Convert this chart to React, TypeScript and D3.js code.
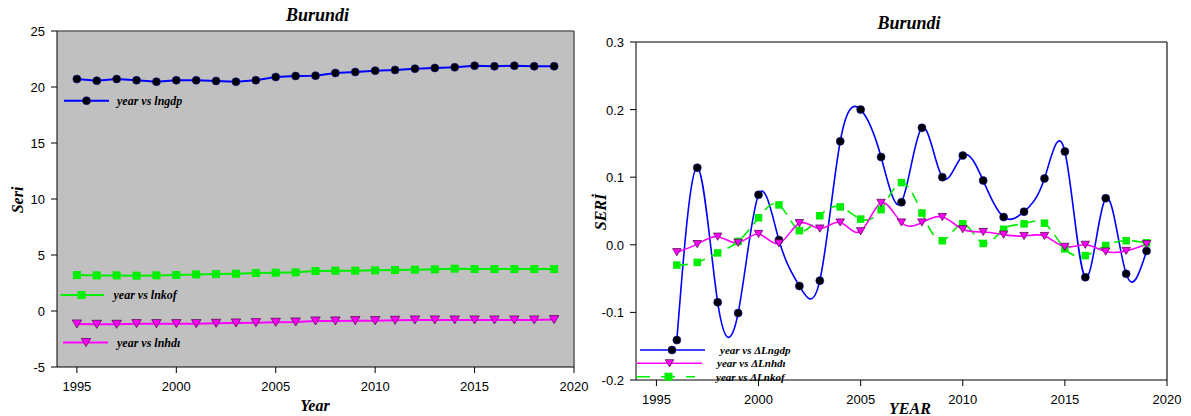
import React from "react";
import * as d3 from "d3";

// Levels, 1995–2019
const yearsLevel = d3.range(1995, 2020);
const lngdp = [20.71, 20.56, 20.71, 20.6, 20.47, 20.6, 20.6, 20.54, 20.47, 20.6, 20.89, 20.98, 21.01, 21.25, 21.34, 21.46, 21.52, 21.64, 21.7, 21.76, 21.9, 21.85, 21.9, 21.85, 21.85];
const lnkof = [3.21, 3.18, 3.18, 3.15, 3.18, 3.21, 3.27, 3.3, 3.33, 3.39, 3.42, 3.45, 3.57, 3.6, 3.6, 3.63, 3.66, 3.69, 3.72, 3.78, 3.75, 3.75, 3.75, 3.75, 3.75];
const lnhdi = [-1.16, -1.19, -1.19, -1.13, -1.13, -1.13, -1.13, -1.1, -1.07, -1.04, -1.01, -0.98, -0.89, -0.89, -0.86, -0.86, -0.83, -0.8, -0.8, -0.8, -0.8, -0.8, -0.8, -0.8, -0.77];

// First differences, 1996–2019
const yearsDiff = d3.range(1996, 2020);
const dLngdp = [-0.141, 0.114, -0.085, -0.101, 0.074, 0.007, -0.061, -0.053, 0.153, 0.2, 0.13, 0.063, 0.173, 0.1, 0.132, 0.095, 0.041, 0.049, 0.098, 0.138, -0.048, 0.069, -0.043, -0.009];
const dLnhdi = [-0.011, 0.001, 0.012, 0.003, 0.016, 0.002, 0.032, 0.024, 0.033, 0.02, 0.062, 0.033, 0.033, 0.041, 0.023, 0.019, 0.015, 0.013, 0.013, -0.003, 0.0, -0.01, -0.009, 0.001];
const dLnkof = [-0.03, -0.026, -0.012, 0.005, 0.04, 0.059, 0.021, 0.043, 0.056, 0.038, 0.052, 0.092, 0.047, 0.006, 0.031, 0.002, 0.023, 0.031, 0.032, -0.006, -0.016, -0.001, 0.006, 0.003];

const xTicks = [1995, 2000, 2005, 2010, 2015, 2020];
const yTicksLevel = [-5, 0, 5, 10, 15, 20, 25];
const yTicksDiff = [-0.2, -0.1, 0.0, 0.1, 0.2, 0.3];

const titleText = "Burundi";
const levelLegend = ["year vs lngdp", "year vs lnkof", "year vs lnhdı"];
const diffLegend = ["year vs ΔLngdp", "year vs ΔLnhdı", "year vs ΔLnkof"];

const SERIF = "'Liberation Serif', 'Times New Roman', serif";
const SANS = "'Liberation Sans', Arial, sans-serif";
const BLUE = "#0000ff";
const GREEN = "#00ee00";
const MAGENTA = "#ff00ff";

const Circle = ({ x, y, r = 4 }: { x: number; y: number; r?: number }) => (
  <circle cx={x} cy={y} r={r} fill="#000" stroke="#1010a0" strokeWidth={0.6} />
);
const Square = ({ x, y, s = 8 }: { x: number; y: number; s?: number }) => (
  <rect x={x - s / 2} y={y - s / 2} width={s} height={s} fill={GREEN} />
);
const TriDown = ({ x, y, s = 9 }: { x: number; y: number; s?: number }) => {
  const h = s * 0.85;
  return (
    <path
      d={`M${x - s / 2},${y - h / 2}L${x + s / 2},${y - h / 2}L${x},${y + h / 2}Z`}
      fill={MAGENTA}
      stroke="#5a1050"
      strokeWidth={0.8}
    />
  );
};

function LevelPanel() {
  const x = d3.scaleLinear().domain([1994, 2020]).range([57, 574]);
  const y = d3.scaleLinear().domain([-5, 25]).range([367, 31]);
  const line = (vals: number[]) =>
    d3.line<number>().x((_, i) => x(yearsLevel[i])).y((d) => y(d))(vals) || "";
  const [x0, x1] = x.range();
  const [yb, yt] = y.range();
  return (
    <g>
      <rect x={x0} y={yt} width={x1 - x0} height={yb - yt} fill="#c0c0c0" />
      <line x1={x0} x2={x1} y1={yt} y2={yt} stroke="#606060" strokeWidth={1.6} />
      <line x1={x1} x2={x1} y1={yt} y2={yb} stroke="#606060" strokeWidth={1.6} />
      <line x1={x0} x2={x0} y1={yt} y2={yb} stroke="#000" strokeWidth={1} />
      <line x1={x0} x2={x1} y1={yb} y2={yb} stroke="#000" strokeWidth={1} />
      {yTicksLevel.map((t) => (
        <g key={t}>
          <line x1={x0 - 6} x2={x0} y1={y(t)} y2={y(t)} stroke="#000" />
          <text x={x0 - 12} y={y(t) + 5} textAnchor="end" fontFamily={SANS} fontSize={13}>
            {t}
          </text>
        </g>
      ))}
      {xTicks.map((t) => (
        <g key={t}>
          <line x1={x(t)} x2={x(t)} y1={yb} y2={yb + 6} stroke="#000" />
          <text x={x(t)} y={yb + 24} textAnchor="middle" fontFamily={SANS} fontSize={13}>
            {t}
          </text>
        </g>
      ))}

      <path d={line(lngdp)} fill="none" stroke={BLUE} strokeWidth={2} />
      {lngdp.map((d, i) => <Circle key={i} x={x(yearsLevel[i])} y={y(d)} />)}
      <path d={line(lnkof)} fill="none" stroke={GREEN} strokeWidth={2} />
      {lnkof.map((d, i) => <Square key={i} x={x(yearsLevel[i])} y={y(d)} />)}
      <path d={line(lnhdi)} fill="none" stroke={MAGENTA} strokeWidth={2} />
      {lnhdi.map((d, i) => <TriDown key={i} x={x(yearsLevel[i])} y={y(d)} s={9.5} />)}

      {/* legend entries */}
      <line x1={64} x2={109} y1={100.7} y2={100.7} stroke={BLUE} strokeWidth={2} />
      <Circle x={86.5} y={100.7} />
      <text x={117} y={104.5} fontFamily={SERIF} fontStyle="italic" fontWeight="bold" fontSize={12}>
        {levelLegend[0]}
      </text>
      <line x1={60.5} x2={104} y1={295} y2={295} stroke={GREEN} strokeWidth={2} />
      <Square x={81.5} y={295} />
      <text x={113.5} y={299} fontFamily={SERIF} fontStyle="italic" fontWeight="bold" fontSize={12}>
        {levelLegend[1]}
      </text>
      <line x1={63} x2={108} y1={342.5} y2={342.5} stroke={MAGENTA} strokeWidth={2} />
      <TriDown x={86} y={342.5} s={9.5} />
      <text x={117} y={346.5} fontFamily={SERIF} fontStyle="italic" fontWeight="bold" fontSize={12}>
        {levelLegend[2]}
      </text>

      <text x={317.5} y={21} textAnchor="middle" fontFamily={SERIF} fontStyle="italic" fontWeight="bold" fontSize={18}>
        {titleText}
      </text>
      <text x={315} y={411} textAnchor="middle" fontFamily={SERIF} fontStyle="italic" fontWeight="bold" fontSize={16}>
        Year
      </text>
      <text
        transform="translate(23,200) rotate(-90)"
        textAnchor="middle"
        fontFamily={SERIF}
        fontStyle="italic"
        fontWeight="bold"
        fontSize={16}
      >
        Seri
      </text>
    </g>
  );
}

function DiffPanel() {
  const x = d3.scaleLinear().domain([1994, 2020]).range([636, 1167]);
  const y = d3.scaleLinear().domain([-0.2, 0.3]).range([380, 42]);
  const spline = (vals: number[]) =>
    d3.line<number>().curve(d3.curveNatural).x((_, i) => x(yearsDiff[i])).y((d) => y(d))(vals) || "";
  const [x0, x1] = x.range();
  const [yb, yt] = y.range();
  // plain hyphen for negative tick labels
  const fmt = (v: number) => d3.format(".1f")(v).replace("\u2212", "-");
  return (
    <g>
      <defs>
        <clipPath id="diff-clip">
          <rect x={x0} y={yt} width={x1 - x0} height={yb - yt} />
        </clipPath>
      </defs>
      <line x1={x0} x2={x1} y1={yt} y2={yt} stroke="#505050" strokeWidth={1.6} />
      <line x1={x1} x2={x1} y1={yt} y2={yb} stroke="#505050" strokeWidth={1.6} />
      <line x1={x0} x2={x0} y1={yt} y2={yb} stroke="#000" strokeWidth={1} />
      <line x1={x0} x2={x1} y1={yb} y2={yb} stroke="#000" strokeWidth={1} />
      {yTicksDiff.map((t) => (
        <g key={t}>
          <line x1={x0 - 6} x2={x0} y1={y(t)} y2={y(t)} stroke="#000" />
          <text x={x0 - 12} y={y(t) + 5} textAnchor="end" fontFamily={SANS} fontSize={13}>
            {fmt(t)}
          </text>
        </g>
      ))}
      {xTicks.map((t) => (
        <g key={t}>
          <line x1={x(t)} x2={x(t)} y1={yb} y2={yb + 6} stroke="#000" />
          <text x={x(t)} y={yb + 24} textAnchor="middle" fontFamily={SANS} fontSize={13}>
            {t}
          </text>
        </g>
      ))}

      <g clipPath="url(#diff-clip)">
        <path d={spline(dLngdp)} fill="none" stroke={BLUE} strokeWidth={1.6} />
        <path d={spline(dLnkof)} fill="none" stroke={GREEN} strokeWidth={1.6} strokeDasharray="11,7" />
        <path d={spline(dLnhdi)} fill="none" stroke={MAGENTA} strokeWidth={1.6} />
      </g>
      {dLngdp.map((d, i) => <Circle key={i} x={x(yearsDiff[i])} y={y(d)} r={4} />)}
      {dLnkof.map((d, i) => <Square key={i} x={x(yearsDiff[i])} y={y(d)} s={7.5} />)}
      {dLnhdi.map((d, i) => <TriDown key={i} x={x(yearsDiff[i])} y={y(d)} s={8.5} />)}

      {/* legend entries */}
      <line x1={640} x2={705} y1={350} y2={350} stroke={BLUE} strokeWidth={1.6} />
      <Circle x={672} y={350} />
      <text x={720} y={353.5} fontFamily={SERIF} fontStyle="italic" fontWeight="bold" fontSize={11}>
        {diffLegend[0]}
      </text>
      <line x1={637} x2={702} y1={363.3} y2={363.3} stroke={MAGENTA} strokeWidth={1.6} />
      <TriDown x={669.5} y={363.3} s={8.5} />
      <text x={717} y={367} fontFamily={SERIF} fontStyle="italic" fontWeight="bold" fontSize={11}>
        {diffLegend[1]}
      </text>
      <line x1={636} x2={695} y1={376.7} y2={376.7} stroke={GREEN} strokeWidth={1.6} strokeDasharray="14,11" />
      <Square x={668.5} y={376.7} s={8} />
      <text x={716} y={380.5} fontFamily={SERIF} fontStyle="italic" fontWeight="bold" fontSize={11}>
        {diffLegend[2]}
      </text>

      <text x={909} y={29} textAnchor="middle" fontFamily={SERIF} fontStyle="italic" fontWeight="bold" fontSize={18}>
        {titleText}
      </text>
      <text x={910} y={414} textAnchor="middle" fontFamily={SERIF} fontStyle="italic" fontWeight="bold" fontSize={16}>
        YEAR
      </text>
      <text
        transform="translate(606,212) rotate(-90)"
        textAnchor="middle"
        fontFamily={SERIF}
        fontStyle="italic"
        fontWeight="bold"
        fontSize={16}
      >
        SERİ
      </text>
    </g>
  );
}

export default function App() {
  return (
    <svg
      width={1191}
      height={416}
      viewBox="0 0 1191 416"
      style={{ position: "absolute", left: 0, top: 0, background: "#fff" }}
    >
      <LevelPanel />
      <DiffPanel />
    </svg>
  );
}
